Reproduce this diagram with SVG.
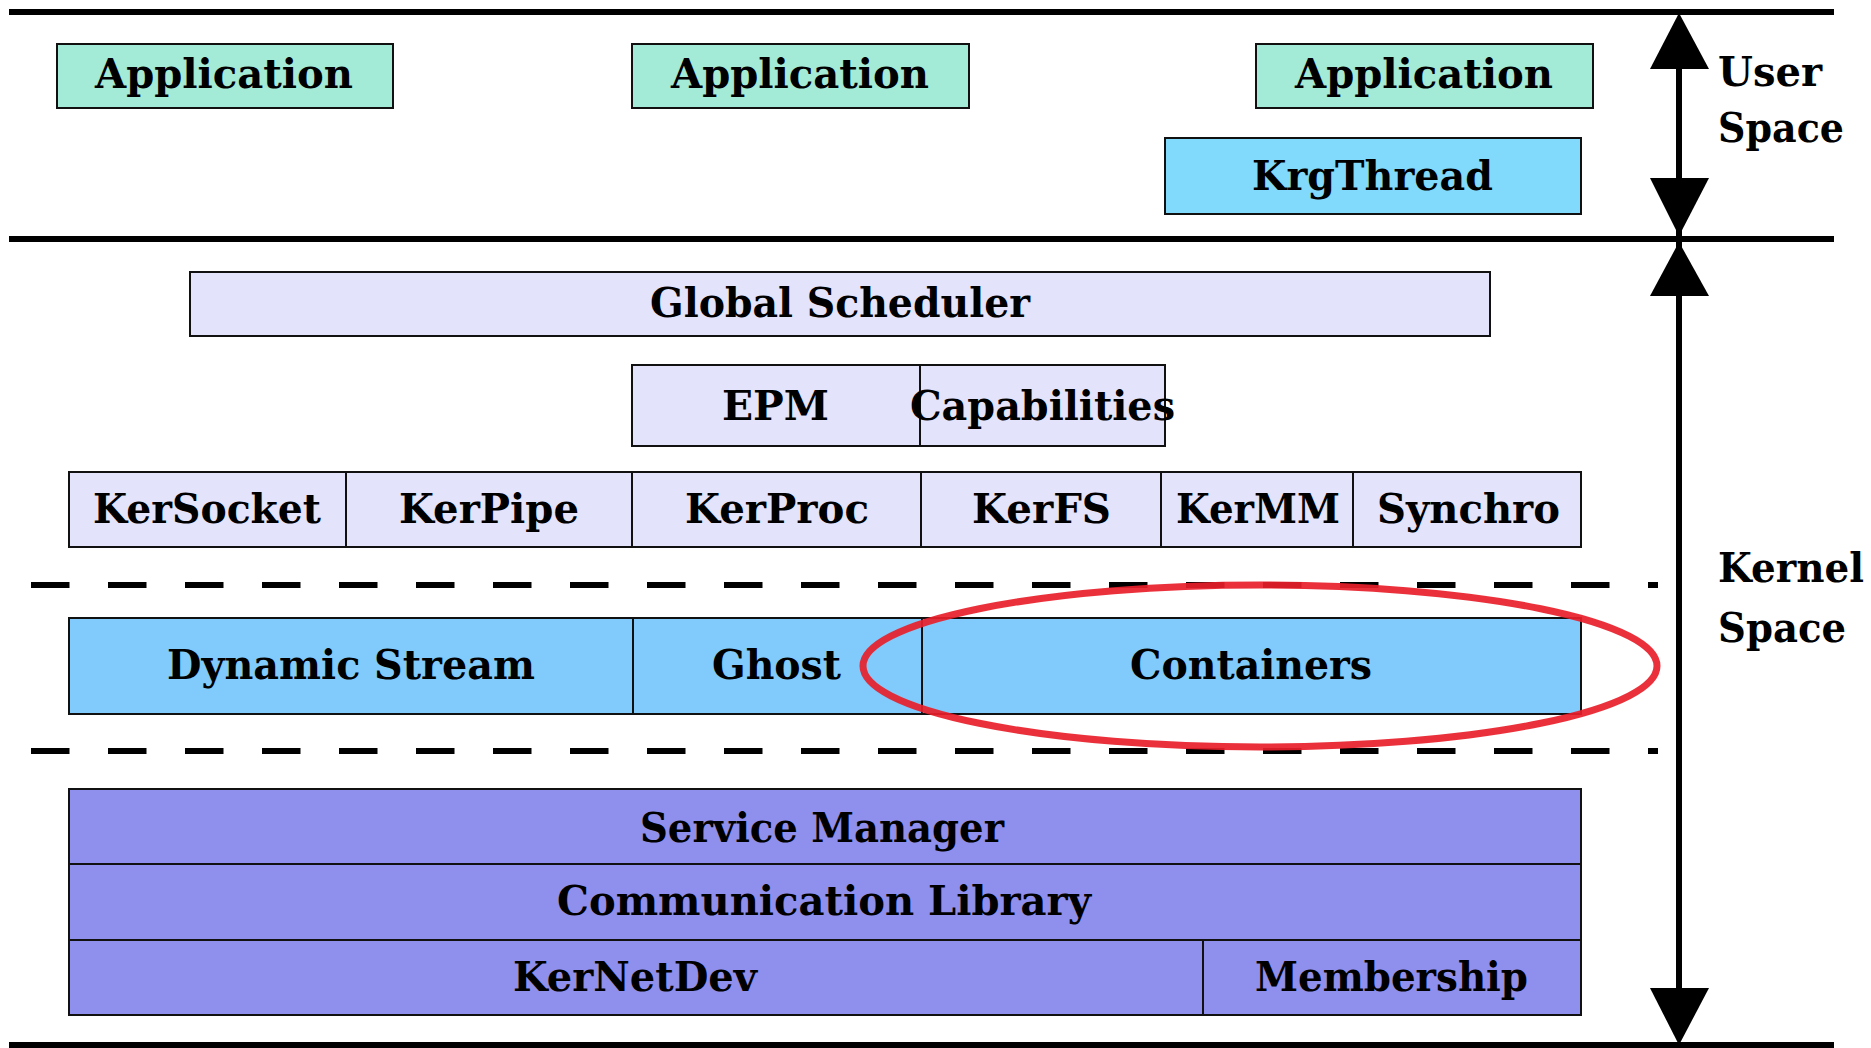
<svg xmlns="http://www.w3.org/2000/svg" width="1871" height="1048" viewBox="0 0 1871 1048">
  <style>
    text { font-family: "DejaVu Serif", "Liberation Serif", serif; font-weight: bold; font-size: 41px; fill: #000; }
    .box { stroke: #111; stroke-width: 2; }
    .app { fill: #A3EAD7; }
    .thread { fill: #81D9FB; }
    .kern { fill: #E3E3FC; }
    .mig { fill: #80CBFB; }
    .net { fill: #8F8FED; }
    .rule { stroke: #000; stroke-width: 6; fill: none; }
    .dash { stroke: #000; stroke-width: 6; stroke-dasharray: 38.5 38.5; fill: none; }
    .head { fill: #000; }
  </style>

  <!-- user / kernel boundaries and layer separators -->
  <g id="connectors">
    <line class="rule" x1="9" y1="12" x2="1834" y2="12"/>
    <line class="rule" x1="9" y1="239" x2="1834" y2="239"/>
    <line class="rule" x1="9" y1="1045" x2="1834" y2="1045" stroke-width="5"/>
    <line class="dash" x1="31" y1="585" x2="1658" y2="585"/>
    <line class="dash" x1="31" y1="751" x2="1658" y2="751"/>
    <!-- space extent arrows -->
    <line class="rule" x1="1679" y1="40" x2="1679" y2="1020"/>
    <polygon class="head" points="1679,13 1709,69 1650,69"/>
    <polygon class="head" points="1650,178 1709,178 1679,236"/>
    <polygon class="head" points="1679,242 1709,296 1650,296"/>
    <polygon class="head" points="1650,988 1709,988 1679,1045"/>
  </g>

  <!-- user space -->
  <g id="app1">
    <rect class="box app" x="57" y="44" width="336" height="64"/>
    <text x="95" y="88" textLength="258" lengthAdjust="spacingAndGlyphs">Application</text>
  </g>
  <g id="app2">
    <rect class="box app" x="632" y="44" width="337" height="64"/>
    <text x="671" y="88" textLength="258" lengthAdjust="spacingAndGlyphs">Application</text>
  </g>
  <g id="app3">
    <rect class="box app" x="1256" y="44" width="337" height="64"/>
    <text x="1295" y="88" textLength="258" lengthAdjust="spacingAndGlyphs">Application</text>
  </g>
  <g id="krgthread">
    <rect class="box thread" x="1165" y="138" width="416" height="76"/>
    <text x="1252" y="190" textLength="241" lengthAdjust="spacingAndGlyphs">KrgThread</text>
  </g>

  <!-- kernel space: high level services -->
  <g id="global-scheduler">
    <rect class="box kern" x="190" y="272" width="1300" height="64"/>
    <text x="650" y="317" textLength="380" lengthAdjust="spacingAndGlyphs">Global Scheduler</text>
  </g>
  <g id="epm">
    <rect class="box kern" x="632" y="365" width="288" height="81"/>
    <text x="722" y="420" textLength="107" lengthAdjust="spacingAndGlyphs">EPM</text>
  </g>
  <g id="capabilities">
    <rect class="box kern" x="920" y="365" width="245" height="81"/>
    <text x="910" y="420" textLength="265" lengthAdjust="spacingAndGlyphs">Capabilities</text>
  </g>

  <g id="kersocket">
    <rect class="box kern" x="69" y="472" width="277" height="75"/>
    <text x="93" y="523" textLength="228" lengthAdjust="spacingAndGlyphs">KerSocket</text>
  </g>
  <g id="kerpipe">
    <rect class="box kern" x="346" y="472" width="286" height="75"/>
    <text x="399" y="523" textLength="180" lengthAdjust="spacingAndGlyphs">KerPipe</text>
  </g>
  <g id="kerproc">
    <rect class="box kern" x="632" y="472" width="289" height="75"/>
    <text x="685" y="523" textLength="184" lengthAdjust="spacingAndGlyphs">KerProc</text>
  </g>
  <g id="kerfs">
    <rect class="box kern" x="921" y="472" width="240" height="75"/>
    <text x="972" y="523" textLength="139" lengthAdjust="spacingAndGlyphs">KerFS</text>
  </g>
  <g id="kermm">
    <rect class="box kern" x="1161" y="472" width="192" height="75"/>
    <text x="1176" y="523" textLength="164" lengthAdjust="spacingAndGlyphs">KerMM</text>
  </g>
  <g id="synchro">
    <rect class="box kern" x="1353" y="472" width="228" height="75"/>
    <text x="1377" y="523" textLength="183" lengthAdjust="spacingAndGlyphs">Synchro</text>
  </g>

  <!-- kernel space: migration layer -->
  <g id="dynamic-stream">
    <rect class="box mig" x="69" y="618" width="564" height="96"/>
    <text x="167" y="679" textLength="368" lengthAdjust="spacingAndGlyphs">Dynamic Stream</text>
  </g>
  <g id="ghost">
    <rect class="box mig" x="633" y="618" width="289" height="96"/>
    <text x="712" y="679" textLength="129" lengthAdjust="spacingAndGlyphs">Ghost</text>
  </g>
  <g id="containers">
    <rect class="box mig" x="922" y="618" width="659" height="96"/>
    <text x="1130" y="679" textLength="242" lengthAdjust="spacingAndGlyphs">Containers</text>
  </g>

  <!-- kernel space: communication layer -->
  <g id="service-manager">
    <rect class="box net" x="69" y="789" width="1512" height="75"/>
    <text x="640" y="842" textLength="364" lengthAdjust="spacingAndGlyphs">Service Manager</text>
  </g>
  <g id="communication-library">
    <rect class="box net" x="69" y="864" width="1512" height="76"/>
    <text x="557" y="915" textLength="534" lengthAdjust="spacingAndGlyphs">Communication Library</text>
  </g>
  <g id="kernetdev">
    <rect class="box net" x="69" y="940" width="1134" height="75"/>
    <text x="513" y="991" textLength="244" lengthAdjust="spacingAndGlyphs">KerNetDev</text>
  </g>
  <g id="membership">
    <rect class="box net" x="1203" y="940" width="378" height="75"/>
    <text x="1255" y="991" textLength="273" lengthAdjust="spacingAndGlyphs">Membership</text>
  </g>

  <!-- highlight around the containers -->
  <ellipse id="highlight" cx="1260" cy="666" rx="397" ry="81" fill="none" stroke="#E8202A" stroke-width="7" stroke-opacity="0.92"/>

  <!-- space labels -->
  <g id="user-space-label">
    <text x="1718" y="86" textLength="104" lengthAdjust="spacingAndGlyphs">User</text>
    <text x="1718" y="142" textLength="126" lengthAdjust="spacingAndGlyphs">Space</text>
  </g>
  <g id="kernel-space-label">
    <text x="1718" y="582" textLength="146" lengthAdjust="spacingAndGlyphs">Kernel</text>
    <text x="1718" y="642" textLength="128" lengthAdjust="spacingAndGlyphs">Space</text>
  </g>
</svg>
